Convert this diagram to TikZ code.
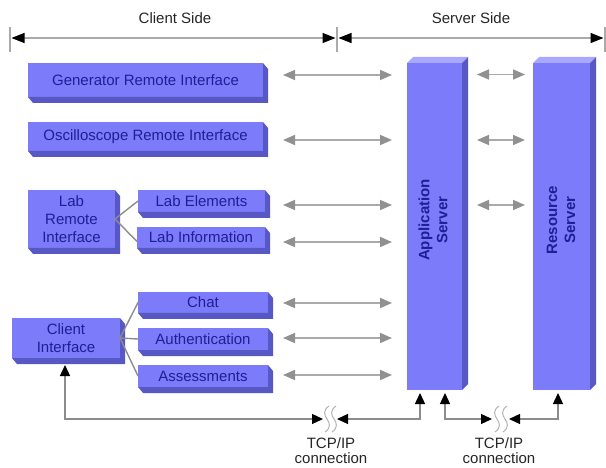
\documentclass[tikz,border=0pt]{standalone}
\usepackage{fontspec}
\setmainfont{Liberation Sans}
\usetikzlibrary{arrows.meta,calc}
\definecolor{front}{RGB}{124,124,250}
\definecolor{side}{RGB}{88,88,196}
\definecolor{topf}{RGB}{168,168,252}
\definecolor{txt}{RGB}{30,30,150}
\definecolor{garr}{RGB}{145,145,145}
\definecolor{gline}{RGB}{170,170,170}
\definecolor{lineg}{RGB}{140,140,140}
\definecolor{tickg}{RGB}{170,170,170}
\begin{document}
\begin{tikzpicture}[x=1pt,y=-1pt,
  box/.style={fill=front, draw=none, inner sep=0pt, outer sep=0pt, text=txt,
    font=\fontsize{15}{18}\selectfont, align=center},
  srv/.style={fill=front, draw=none, inner sep=0pt, outer sep=0pt},
  srvtext/.style={text=txt, font=\fontsize{15}{18}\selectfont\bfseries, align=center, rotate=90},
  sidef/.style={fill=side},
  topface/.style={fill=topf},
  garrow/.style={draw=gline, line width=1.6pt,
    {Triangle[length=12pt,width=10pt,color=garr]}-{Triangle[length=12pt,width=10pt,color=garr]}},
  barrow/.style={draw=lineg, line width=1.3pt,
    {Triangle[length=11pt,width=10pt,color=black]}-{Triangle[length=11pt,width=10pt,color=black]}},
  dimarrow/.style={draw=gline, line width=1.2pt,
    {Triangle[length=13pt,width=10pt,color=black]}-{Triangle[length=13pt,width=10pt,color=black]}},
  tick/.style={draw=tickg, line width=1.2pt},
  fan/.style={draw=lineg, line width=1.4pt},
  wave/.style={draw=gray!60, line width=1pt},
  lbl/.style={text=black!85, font=\fontsize{15}{17}\selectfont, align=center},
  tcplbl/.style={text=black!85, font=\fontsize{15}{15}\selectfont, align=center}
]
\useasboundingbox (0,0) rectangle (606,468);
\fill[white] (0,0) rectangle (606,468);

% header
\node[lbl] (cs) at (175,18) {Client Side};
\node[lbl] (ss) at (471,18) {Server Side};
\coordinate (tl) at (10,38);
\coordinate (tm) at (337,38);
\coordinate (tr) at (605,38);
\draw[tick] ($(tl)+(0,-11)$) -- ($(tl)+(0,14)$);
\draw[tick] ($(tm)+(0,-11)$) -- ($(tm)+(0,14)$);
\draw[tick] ($(tr)+(0,-11)$) -- ($(tr)+(0,14)$);
\draw[dimarrow, shorten <=1.5pt, shorten >=1.5pt] (tl) -- (tm);
\draw[dimarrow, shorten <=1.5pt, shorten >=1.5pt] (tm) -- (tr);

% client boxes
\node[box, minimum width=235pt, minimum height=34pt] (gen) at (145.5,80) {Generator Remote Interface};
\node[box, minimum width=235pt, minimum height=29pt] (osc) at (145.5,136.5) {Oscilloscope Remote Interface};
\node[box, minimum width=87pt, minimum height=58pt] (lab) at (71.5,219) {Lab\\Remote\\Interface};
\node[box, minimum width=127pt, minimum height=22pt] (labelem) at (201.5,201) {Lab Elements};
\node[box, minimum width=128pt, minimum height=21pt] (labinfo) at (201,237.5) {Lab Information};
\node[box, minimum width=130pt, minimum height=21pt] (chat) at (203,302.5) {Chat};
\node[box, minimum width=130pt, minimum height=22pt] (auth) at (203,339) {Authentication};
\node[box, minimum width=130pt, minimum height=22pt] (assess) at (203,376) {Assessments};
\node[box, minimum width=108pt, minimum height=40pt] (client) at (66,338) {Client\\Interface};

\foreach \n in {gen,osc,lab,labelem,labinfo,chat,auth,assess,client}
  \fill[sidef] (\n.north east) -- ++(5,6) -- ($(\n.south east)+(5,6)$)
     -- ($(\n.south west)+(5,6)$) -- (\n.south west) -- (\n.south east) -- cycle;

% fans
\draw[fan] (lab.east) -- (labelem.west);
\draw[fan] (lab.east) -- ($(labinfo.west)+(0,4)$);
\draw[fan] (client.east) -- (chat.west);
\draw[fan] (client.east) -- (auth.west);
\draw[fan] (client.east) -- (assess.west);

% servers
\node[srv, minimum width=55pt, minimum height=327pt] (app) at (434.5,226.5) {};
\node[srv, minimum width=57pt, minimum height=327pt] (res) at (561.5,226.5) {};
\foreach \n in {app,res} {
  \fill[topface] (\n.north west) -- ++(6,-6) -- ($(\n.north east)+(6,-6)$) -- (\n.north east) -- cycle;
  \fill[sidef] (\n.north east) -- ++(6,-6) -- ($(\n.south east)+(6,-6)$) -- (\n.south east) -- cycle;
}
\node[srvtext] (apptext) at (433,220) {Application\\Server};
\node[srvtext] (restext) at (561,220) {Resource\\Server};

% client <-> application server arrows
\draw[garrow, shorten <=20pt, shorten >=15pt] ([yshift=5pt]gen.east) -- ([yshift=5pt]gen.east -| app.west);
\draw[garrow, shorten <=20pt, shorten >=15pt] ([yshift=-3.5pt]osc.east) -- ([yshift=-3.5pt]osc.east -| app.west);
\draw[garrow, shorten <=18pt, shorten >=15pt] ([yshift=-4pt]labelem.east) -- ([yshift=-4pt]labelem.east -| app.west);
\draw[garrow, shorten <=18pt, shorten >=15pt] ([yshift=-4.5pt]labinfo.east) -- ([yshift=-4.5pt]labinfo.east -| app.west);
\draw[garrow, shorten <=15pt, shorten >=15pt] ([yshift=-0.5pt]chat.east) -- ([yshift=-0.5pt]chat.east -| app.west);
\draw[garrow, shorten <=15pt, shorten >=15pt] ([yshift=1pt]auth.east) -- ([yshift=1pt]auth.east -| app.west);
\draw[garrow, shorten <=15pt, shorten >=15pt] ([yshift=1pt]assess.east) -- ([yshift=1pt]assess.east -| app.west);

% app <-> resource arrows
\draw[garrow, shorten <=15pt, shorten >=8pt] ([yshift=152pt]app.east) -- ([yshift=152pt]app.east -| res.west);
\draw[garrow, shorten <=15pt, shorten >=8pt] ([yshift=86.5pt]app.east) -- ([yshift=86.5pt]app.east -| res.west);
\draw[garrow, shorten <=15pt, shorten >=8pt] ([yshift=21.5pt]app.east) -- ([yshift=21.5pt]app.east -| res.west);

% TCP/IP links
\coordinate (b1L) at (323,419);
\coordinate (b1R) at (337,419);
\coordinate (b2L) at (492,419);
\coordinate (b2R) at (509,419);
\draw[barrow, shorten <=7pt] ([xshift=-1pt]client.south) |- (b1L);
\draw[barrow, shorten >=3pt] (b1R) -| ([xshift=-14.5pt]app.south);
\draw[barrow, shorten <=3pt] ([xshift=10.5pt]app.south) |- (b2L);
\draw[barrow, shorten >=3pt] (b2R) -| ([xshift=-3.5pt]res.south);

\foreach \x in {327,334,497,505}
  \draw[wave] (\x+2,406) .. controls (\x-4,410) and (\x-3,415) .. (\x,419)
              .. controls (\x+3,423) and (\x+4,428) .. (\x-2,432);

\node[tcplbl] (tcp1) at (331,451) {TCP/IP\\connection};
\node[tcplbl] (tcp2) at (499,451) {TCP/IP\\connection};
\end{tikzpicture}
\end{document}
